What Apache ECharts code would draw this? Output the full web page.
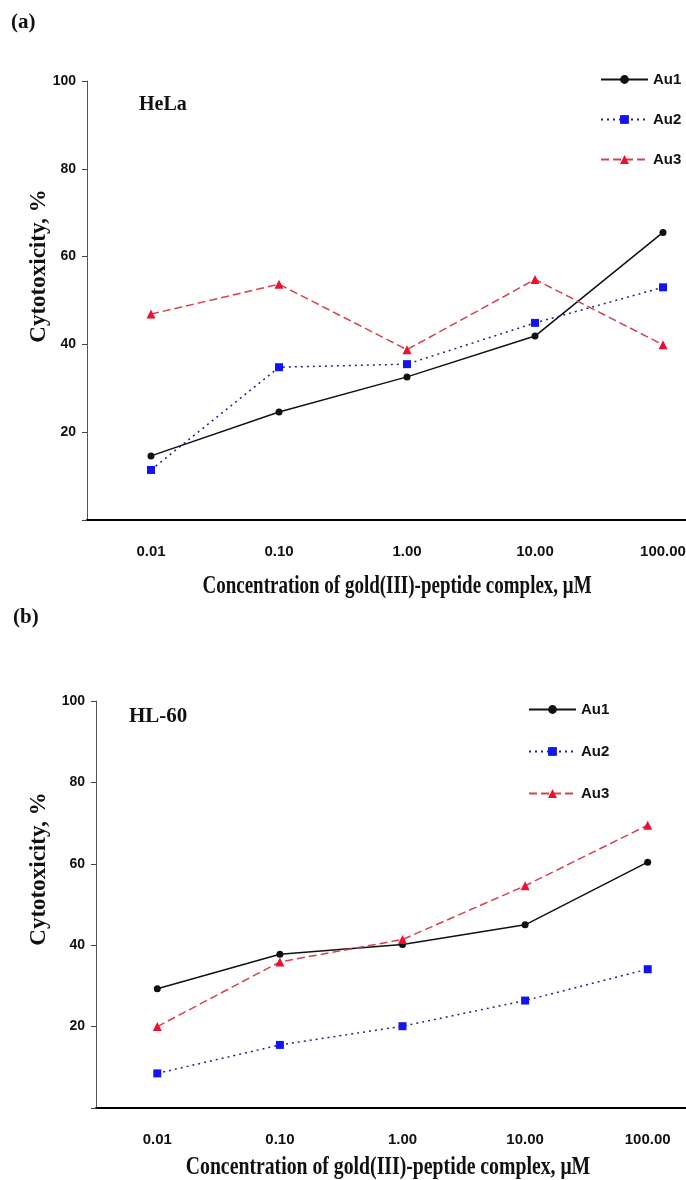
<!DOCTYPE html>
<html>
<head>
<meta charset="utf-8">
<script src="https://cdn.jsdelivr.net/npm/echarts@6/dist/echarts.min.js"></script>
<style>
  html, body { margin: 0; padding: 0; background: #fff; overflow: hidden; }
  /* the plot bands run past the right edge of the figure, so the canvas is a bit wider than the window */
  #main { width: 740px; height: 1180px; }
</style>
</head>
<body>
<div id="main"></div>
<script>
// concentration categories (log steps)
var concLabels = ['0.01', '0.10', '1.00', '10.00', '100.00'];
var yTicks = [0, 20, 40, 60, 80, 100];

// (a) HeLa
var helaAu1 = [14.6, 24.6, 32.6, 41.9, 65.5];
var helaAu2 = [11.4, 34.8, 35.5, 44.9, 53.0];
var helaAu3 = [46.9, 53.7, 38.8, 54.8, 39.9];

// (b) HL-60
var hl60Au1 = [29.3, 37.8, 40.2, 45.0, 60.4];
var hl60Au2 = [8.5, 15.5, 20.1, 26.4, 34.1];
var hl60Au3 = [20.0, 35.9, 41.4, 54.6, 69.5];

var serifBold = '"Liberation Serif", "Times New Roman", serif';
var sansBold = '"Liberation Sans", Arial, sans-serif';

var chart = echarts.init(document.getElementById('main'));

function xAx(idx) {
    return {
        type: 'category',
        gridIndex: idx,
        data: concLabels,
        boundaryGap: true,
        axisLine: { lineStyle: { color: '#000', width: 2 } },
        axisTick: { length: 6, lineStyle: { color: '#222', width: 1 } },
        axisLabel: { margin: 24, color: '#111', fontFamily: sansBold, fontWeight: 'bold', fontSize: 15 }
    };
}
function yAx(idx) {
    return {
        type: 'value',
        gridIndex: idx,
        min: yTicks[0],
        max: yTicks[yTicks.length - 1],
        interval: 20,
        splitLine: { show: false },
        axisLine: { show: true, lineStyle: { color: '#555', width: 1 } },
        axisTick: { show: true, length: 5, lineStyle: { color: '#444' } },
        axisLabel: {
            margin: 11, color: '#111', fontFamily: sansBold, fontWeight: 'bold', fontSize: 14,
            formatter: function (v) { return v === 0 ? '' : v; }
        }
    };
}

// styles of the three complexes
function au1(idx, vals) {
    return {
        name: 'Au1', type: 'line', xAxisIndex: idx, yAxisIndex: idx, data: vals,
        symbol: 'circle', symbolSize: 7,
        itemStyle: { color: '#111' },
        lineStyle: { color: '#111', width: 1.5, type: 'solid' }
    };
}
function au2(idx, vals) {
    return {
        name: 'Au2', type: 'line', xAxisIndex: idx, yAxisIndex: idx, data: vals,
        symbol: 'rect', symbolSize: 8,
        itemStyle: { color: '#1414f0' },
        lineStyle: { color: '#22228a', width: 1.5, type: [2, 4] }
    };
}
function au3(idx, vals) {
    return {
        name: 'Au3', type: 'line', xAxisIndex: idx, yAxisIndex: idx, data: vals,
        symbol: 'triangle', symbolSize: 9,
        itemStyle: { color: '#ee1030' },
        lineStyle: { color: '#d8404e', width: 1.5, type: [8, 4] }
    };
}

function legendAt(left, top, gap) {
    return {
        orient: 'vertical', left: left, top: top, padding: 0,
        itemWidth: 47, itemHeight: 11, itemGap: gap,
        data: ['Au1', 'Au2', 'Au3'],
        textStyle: { color: '#111', fontFamily: sansBold, fontWeight: 'bold', fontSize: 15, lineHeight: 15 }
    };
}

function txt(x, y, text, size, opts) {
    opts = opts || {};
    return {
        type: 'text', x: x, y: y,
        rotation: opts.rotation || 0,
        scaleX: opts.scaleX || 1,
        style: {
            text: text, fill: '#111', fontFamily: serifBold, fontWeight: 'bold', fontSize: size,
            align: opts.align || 'left', verticalAlign: opts.verticalAlign || 'top'
        }
    };
}

var option = {
    animation: false,
    backgroundColor: '#fff',
    grid: [
        { left: 87, top: 81, width: 640, height: 439 },
        { left: 96, top: 701, width: 613, height: 407 }
    ],
    xAxis: [xAx(0), xAx(1)],
    yAxis: [yAx(0), yAx(1)],
    legend: [legendAt(600, 72, 25), legendAt(528, 702, 27)],
    graphic: [
        txt(11, 12, '(a)', 21),
        txt(139, 95, 'HeLa', 20),
        txt(39, 266, 'Cytotoxicity, %', 23, { rotation: Math.PI / 2, align: 'center', verticalAlign: 'middle' }),
        txt(397, 587, 'Concentration of gold(III)-peptide complex, μM', 25, { align: 'center', verticalAlign: 'middle', scaleX: 0.76 }),
        txt(13, 607, '(b)', 21),
        txt(129, 706, 'HL-60', 21),
        txt(39, 869, 'Cytotoxicity, %', 23, { rotation: Math.PI / 2, align: 'center', verticalAlign: 'middle' }),
        txt(388, 1168, 'Concentration of gold(III)-peptide complex, μM', 25, { align: 'center', verticalAlign: 'middle', scaleX: 0.79 })
    ],
    series: [
        au1(0, helaAu1), au2(0, helaAu2), au3(0, helaAu3),
        au1(1, hl60Au1), au2(1, hl60Au2), au3(1, hl60Au3)
    ]
};

chart.setOption(option);
</script>
</body>
</html>
